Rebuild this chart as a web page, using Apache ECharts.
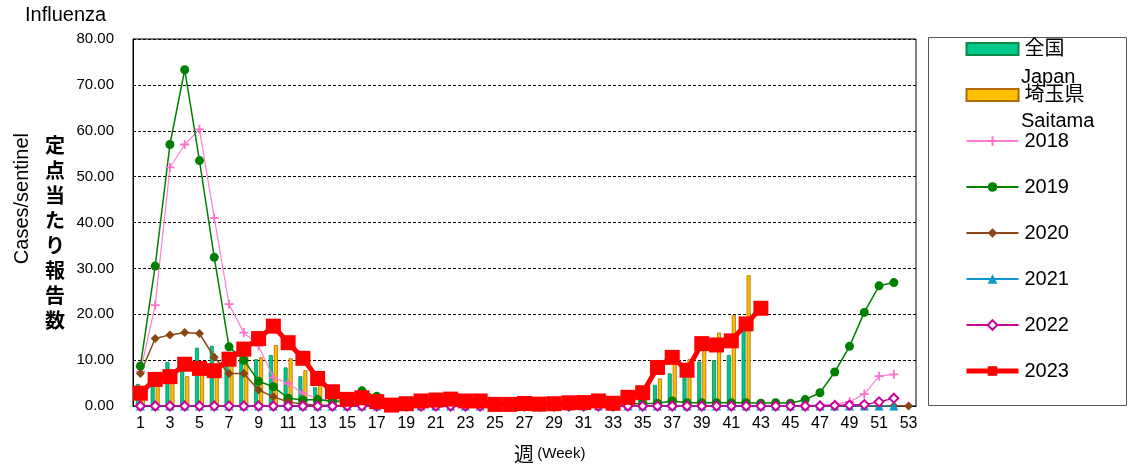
<!DOCTYPE html>
<html>
<head>
    <meta charset="utf-8">
    <title>Influenza</title>
    <script src="https://cdn.jsdelivr.net/npm/echarts@6/dist/echarts.min.js"></script>
    <style>
        html, body { margin: 0; padding: 0; background: #fff; }
    </style>
</head>
<body>
<div id="main" style="width: 1130px; height: 470px;"></div>
<script type="text/javascript">
    // 週 (Week) 1..53
    var weeks = ['1','2','3','4','5','6','7','8','9','10','11','12','13','14','15','16','17','18','19','20',
        '21','22','23','24','25','26','27','28','29','30','31','32','33','34','35','36','37','38','39','40',
        '41','42','43','44','45','46','47','48','49','50','51','52','53'];

    // 全国 (Japan) 2023 bars
    var japan = [4.8, 7.3, 9.6, 7.8, 12.7, 13.1, 11.8, 10.5, 10.2, 11.1, 8.4, 6.5, 4.1, 2.2, 1.4, 1.1, 0.8, 0.5, 0.4, 0.4,
        0.4, 0.4, 0.4, 0.3, 0.3, 0.3, 0.3, 0.3, 0.3, 0.3, 0.3, 0.4, 0.5, 0.8, 1.5, 4.6, 7.1, 6.6, 9.7, 10.0,
        11.1, 17.0];
    // 埼玉県 (Saitama) 2023 bars
    var saitama = [3.0, 5.5, 6.3, 6.5, 7.5, 8.0, 9.5, 11.0, 10.6, 13.3, 10.4, 7.8, 4.6, 2.5, 1.6, 1.2, 0.9, 0.5, 0.3, 0.3,
        0.3, 0.3, 0.3, 0.3, 0.3, 0.3, 0.3, 0.3, 0.3, 0.3, 0.3, 0.4, 0.5, 0.8, 2.0, 6.0, 9.3, 10.2, 12.7, 16.0,
        19.8, 28.5];

    var y2018 = [7.5, 22.0, 52.0, 57.0, 60.3, 41.0, 22.2, 16.0, 13.1, 6.2, 4.9, 2.8, 1.7, 1.0, 0.6, 0.4, 0.3, 0.2, 0.2, 0.1,
        0.1, 0.1, 0.1, 0.1, 0.1, 0.1, 0.1, 0.1, 0.1, 0.1, 0.1, 0.1, 0.1, 0.1, 0.1, 0.1, 0.1, 0.1, 0.1, 0.1,
        0.1, 0.1, 0.1, 0.1, 0.1, 0.1, 0.2, 0.4, 0.9, 2.6, 6.5, 6.9];
    var y2019 = [8.7, 30.5, 57.0, 73.3, 53.5, 32.4, 12.9, 10.0, 5.4, 4.2, 1.7, 1.3, 1.4, 1.0, 1.2, 3.3, 2.1, 0.6, 0.5, 1.5,
        0.5, 0.5, 0.4, 0.4, 0.3, 0.3, 0.3, 0.3, 0.3, 0.3, 0.3, 0.3, 0.4, 0.5, 0.5, 0.6, 1.1, 0.7, 0.7, 0.7,
        0.7, 0.7, 0.6, 0.7, 0.6, 1.4, 2.9, 7.4, 13.0, 20.4, 26.2, 26.9];
    var y2020 = [7.1, 14.7, 15.5, 16.0, 15.8, 10.6, 7.1, 7.1, 3.5, 2.0, 0.9, 0.4, 0.2, 0.1, 0.1, 0.0, 0.0, 0.0, 0.0, 0.0,
        0.0, 0.0, 0.0, 0.0, 0.0, 0.0, 0.0, 0.0, 0.0, 0.0, 0.0, 0.0, 0.0, 0.0, 0.0, 0.0, 0.0, 0.0, 0.0, 0.0,
        0.0, 0.0, 0.0, 0.0, 0.0, 0.0, 0.0, 0.0, 0.0, 0.0, 0.0, 0.0, 0.0];
    var y2021 = [0.0, 0.0, 0.0, 0.0, 0.0, 0.0, 0.0, 0.0, 0.0, 0.0, 0.0, 0.0, 0.0, 0.0, 0.0, 0.0, 0.0, 0.0, 0.0, 0.0,
        0.0, 0.0, 0.0, 0.0, 0.0, 0.0, 0.0, 0.0, 0.0, 0.0, 0.0, 0.0, 0.0, 0.0, 0.0, 0.0, 0.0, 0.0, 0.0, 0.0,
        0.0, 0.0, 0.0, 0.0, 0.0, 0.0, 0.0, 0.0, 0.0, 0.0, 0.0, 0.0];
    var y2022 = [0.0, 0.0, 0.0, 0.0, 0.0, 0.0, 0.0, 0.0, 0.0, 0.0, 0.0, 0.0, 0.0, 0.0, 0.0, 0.0, 0.0, 0.0, 0.0, 0.0,
        0.0, 0.0, 0.0, 0.0, 0.0, 0.0, 0.0, 0.0, 0.0, 0.0, 0.0, 0.0, 0.0, 0.0, 0.0, 0.0, 0.0, 0.0, 0.0, 0.0,
        0.0, 0.0, 0.0, 0.0, 0.0, 0.0, 0.0, 0.1, 0.2, 0.3, 0.9, 1.7];
    var y2023 = [2.8, 5.8, 6.4, 9.1, 8.2, 7.7, 10.2, 12.4, 14.7, 17.4, 13.8, 10.4, 6.0, 3.1, 1.45, 1.8, 0.95, 0.2, 0.5, 1.1,
        1.3, 1.5, 1.1, 1.1, 0.35, 0.35, 0.55, 0.4, 0.5, 0.7, 0.75, 1.1, 0.6, 1.9, 2.9, 8.4, 10.6, 7.8, 13.6, 13.3,
        14.2, 17.9, 21.3];

    var FONT = '"Liberation Sans", Arial, "Noto Sans CJK JP", sans-serif';
    var JFONT = '"Noto Sans CJK JP", "Liberation Sans", sans-serif';

    var myChart = echarts.init(document.getElementById('main'));

    function lineSeries(name, data, color, symbol, size, extra) {
        var s = {
            name: name,
            type: 'line',
            data: data,
            symbol: symbol,
            symbolSize: size,
            showAllSymbol: true,
            lineStyle: { color: color, width: 1.5 },
            itemStyle: { color: color },
            animation: false,
            z: 3
        };
        if (extra) {
            for (var k in extra) s[k] = extra[k];
        }
        return s;
    }

    var option = {
        backgroundColor: '#fff',
        textStyle: { fontFamily: FONT },
        title: {
            text: 'Influenza',
            left: 25,
            top: 5,
            padding: 0,
            textStyle: { fontFamily: FONT, fontSize: 20, fontWeight: 'normal', color: '#000' }
        },
        grid: {
            left: 133,
            right: 214,
            top: 39,
            bottom: 64,
            show: true,
            borderColor: '#000',
            borderWidth: 1,
            containLabel: false
        },
        legend: {
            orient: 'vertical',
            left: 964,
            top: 39,
            padding: 0,
            itemWidth: 52,
            itemHeight: 12,
            itemGap: 26,
            textStyle: { fontFamily: FONT, fontSize: 20, color: '#000', lineHeight: 20, padding: [0, 0, 0, 1] },
            data: [
                { name: '全国', icon: 'rect' },
                { name: '埼玉県', icon: 'rect' },
                '2018', '2019', '2020', '2021', '2022',
                { name: '2023', lineStyle: { width: 5 } }
            ]
        },
        xAxis: {
            type: 'category',
            data: weeks,
            boundaryGap: true,
            axisLine: { lineStyle: { color: '#000', width: 1 } },
            axisTick: { show: false },
            axisLabel: { interval: 1, color: '#000', fontSize: 16, fontFamily: FONT, margin: 10 }
        },
        yAxis: {
            type: 'value',
            min: 0,
            max: 80,
            interval: 10,
            axisLine: { show: true, lineStyle: { color: '#000', width: 1 } },
            axisTick: { show: false },
            axisLabel: {
                color: '#000', fontSize: 15, fontFamily: FONT, margin: 19,
                formatter: function (v) { return v.toFixed(2); }
            },
            splitLine: { show: true, lineStyle: { color: '#000', type: [3, 2], width: 1 } }
        },
        graphic: [
            {
                type: 'text', left: 12, top: 133, rotation: Math.PI / 2,
                style: { text: 'Cases/sentinel', fontFamily: FONT, fontSize: 20, fill: '#000' }
            },
            {
                type: 'text', left: 45, top: 133,
                style: {
                    text: '定\n点\n当\nた\nり\n報\n告\n数', fontFamily: JFONT, fontSize: 20,
                    fontWeight: 'bold', lineHeight: 25, fill: '#000'
                }
            },
            {
                type: 'text', left: 514, top: 444,
                style: {
                    text: '{a|週} {b|(Week)}',
                    rich: {
                        a: { fontFamily: JFONT, fontSize: 20, fill: '#000' },
                        b: { fontFamily: FONT, fontSize: 15, fill: '#000' }
                    }
                }
            },
            {
                type: 'rect', shape: { x: 928.5, y: 37.5, width: 198, height: 368 },
                style: { fill: 'none', stroke: '#555', lineWidth: 1 }, z: -1
            },
            {
                type: 'text', left: 1021, top: 67,
                style: { text: 'Japan', fontFamily: FONT, fontSize: 20, fill: '#000' }
            },
            {
                type: 'text', left: 1021, top: 111,
                style: { text: 'Saitama', fontFamily: FONT, fontSize: 20, fill: '#000' }
            }
        ],
        series: [
            {
                name: '全国',
                type: 'bar',
                data: japan,
                barWidth: 4,
                barGap: '25%',
                itemStyle: { color: '#00C98C', borderColor: '#0A8A4A', borderWidth: 0.8 },
                animation: false,
                z: 2
            },
            {
                name: '埼玉県',
                type: 'bar',
                data: saitama,
                barWidth: 4,
                barGap: '25%',
                itemStyle: { color: '#FFC000', borderColor: '#B06A00', borderWidth: 0.8 },
                animation: false,
                z: 2
            },
            lineSeries('2018', y2018, '#FF6FCF', 'path://M4,0H6V4H10V6H6V10H4V6H0V4H4Z', 9,
                { lineStyle: { color: '#FF7FD0', width: 1.2 } }),
            lineSeries('2019', y2019, '#008000', 'circle', 9),
            lineSeries('2020', y2020, '#8B4513', 'diamond', 9),
            lineSeries('2021', y2021, '#0E96CF', 'triangle', 9),
            lineSeries('2022', y2022, '#D0009A', 'emptyDiamond', 9,
                { itemStyle: { color: '#D0009A', borderColor: '#D0009A', borderWidth: 1.5 } }),
            lineSeries('2023', y2023, '#FF0000', 'rect', 15,
                { lineStyle: { color: '#FF0000', width: 5 }, z: 4 })
        ]
    };

    myChart.setOption(option);
</script>
</body>
</html>
